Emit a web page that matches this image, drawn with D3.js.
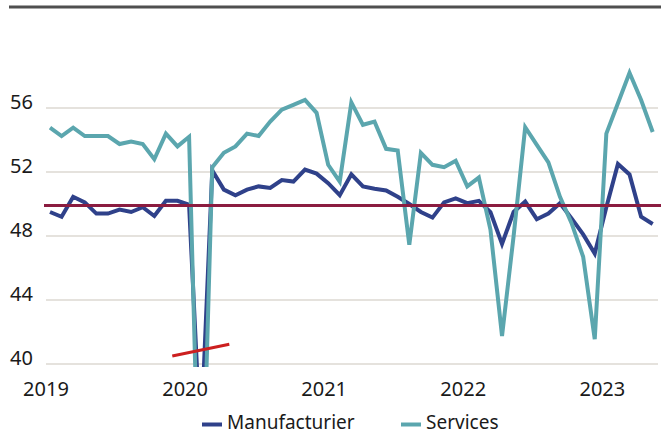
<!DOCTYPE html>
<html>
<head>
<meta charset="utf-8">
<script src="https://cdn.jsdelivr.net/npm/d3@7"></script>
<style>
  body { margin: 0; background: #fff; }
  svg { display: block; font-family: "Noto Sans", sans-serif; }
</style>
</head>
<body>
<svg id="chart" width="661" height="435"></svg>
<script>
// monthly values, Jan 2019 -> May 2023
var manufacturier = [49.5, 49.2, 50.45, 50.1, 49.4, 49.4, 49.65, 49.5, 49.8, 49.25, 50.2, 50.2, 49.95,
    35, 52.1, 50.9, 50.55, 50.9, 51.1, 51.0, 51.5, 51.4, 52.15, 51.9, 51.3,
    50.55, 51.85, 51.1, 50.95, 50.85, 50.45, 50.0, 49.5, 49.15, 50.1, 50.35, 50.05,
    50.2, 49.5, 47.5, 49.5, 50.15, 49.05, 49.4, 50.05, 49.1, 48.1, 46.9, 49.8,
    52.5, 51.85, 49.2, 48.75];
var services = [54.77, 54.25, 54.77, 54.25, 54.25, 54.25, 53.75, 53.9, 53.75, 52.8, 54.4, 53.6, 54.2,
    27, 52.3, 53.2, 53.6, 54.4, 54.25, 55.15, 55.9, 56.2, 56.5, 55.7, 52.45,
    51.4, 56.35, 54.95, 55.15, 53.45, 53.35, 47.45, 53.2, 52.45, 52.3, 52.7, 51.1,
    51.65, 48.4, 41.75, 48.0, 54.8, 53.7, 52.6, 50.45, 48.8, 46.7, 41.55, 54.4,
    56.3, 58.2, 56.5, 54.5];
var yearLabels = ["2019", "2020", "2021", "2022", "2023"];
var yTicks = [40, 44, 48, 52, 56];
var seuil = 49.9;
// the red stroke near 2020 (month index, value)
var redMark = [[10.55, 40.5], [15.47, 41.23]];
var seriesNames = ["Manufacturier", "Services"];
var colors = ["#2f418a", "#5ba6ae"];

var svg = d3.select("#chart");

var x = d3.scaleLinear().domain([0, 52]).range([50, 652.7]);
var y = d3.scaleLinear().domain([40, 56]).range([364, 108]);

// top rule
svg.append("rect")
    .attr("x", 9).attr("y", 5.5)
    .attr("width", 652).attr("height", 3)
    .attr("fill", "#4f4f4f");

// grid
svg.append("g").selectAll("line")
    .data(yTicks)
    .enter()
    .append("line")
    .attr("x1", 46).attr("x2", 658)
    .attr("y1", (d)=>{ return y(d); })
    .attr("y2", (d)=>{ return y(d); })
    .attr("stroke", "#dcd8d2")
    .attr("stroke-width", 1.3);

svg.append("g").selectAll("text")
    .data(yTicks)
    .enter()
    .append("text")
    .attr("x", 33)
    .attr("y", (d)=>{ return y(d) + 0.5; })
    .attr("text-anchor", "end")
    .attr("font-size", 20)
    .attr("fill", "#1a1a1a")
    .text((d)=>{ return d; });

svg.append("g").selectAll("text")
    .data(yearLabels)
    .enter()
    .append("text")
    .attr("x", (d, i)=>{ return x(i * 12) - 4; })
    .attr("y", 396)
    .attr("text-anchor", "middle")
    .attr("font-size", 20)
    .attr("fill", "#1a1a1a")
    .text((d)=>{ return d; });

// lines, clipped just under the 40 gridline
svg.append("clipPath").attr("id", "clip")
    .append("rect")
    .attr("x", 0).attr("y", 0)
    .attr("width", 661).attr("height", 367);

var line = d3.line()
    .x((d, i)=>{ return x(i); })
    .y((d)=>{ return y(d); });

var plot = svg.append("g").attr("clip-path", "url(#clip)");
[manufacturier, services].forEach((s, i)=>{
    plot.append("path")
        .attr("d", line(s))
        .attr("fill", "none")
        .attr("stroke", colors[i])
        .attr("stroke-width", 4)
        .attr("stroke-linejoin", "miter");
});

svg.append("line")
    .attr("x1", 44).attr("x2", 661)
    .attr("y1", y(seuil)).attr("y2", y(seuil))
    .attr("stroke", "#8b1c40")
    .attr("stroke-width", 3);

svg.append("line")
    .attr("x1", x(redMark[0][0])).attr("y1", y(redMark[0][1]))
    .attr("x2", x(redMark[1][0])).attr("y2", y(redMark[1][1]))
    .attr("stroke", "#cc1f1f")
    .attr("stroke-width", 3);

// legend
var legendX = [202, 401];
var leg = svg.append("g").selectAll("g")
    .data(seriesNames)
    .enter()
    .append("g")
    .attr("transform", (d, i)=>{ return "translate(" + legendX[i] + ",424.5)"; });

leg.append("line")
    .attr("x1", 0).attr("x2", 20)
    .attr("stroke", (d, i)=>{ return colors[i]; })
    .attr("stroke-width", 4);

leg.append("text")
    .attr("x", 25)
    .attr("y", 4.5)
    .attr("font-size", 19)
    .attr("fill", "#1a1a1a")
    .text((d)=>{ return d; });
</script>
</body>
</html>
